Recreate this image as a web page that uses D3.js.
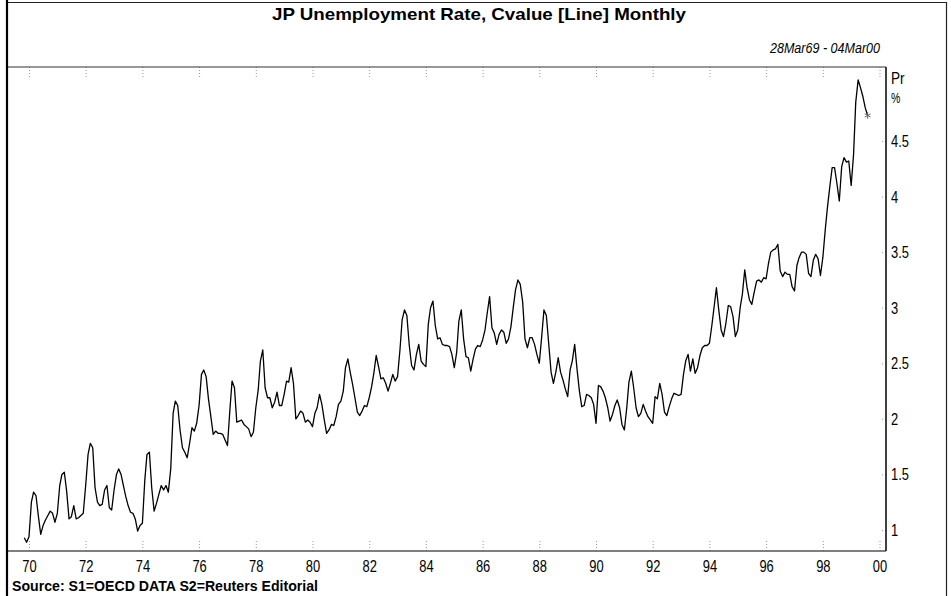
<!DOCTYPE html>
<html>
<head>
<meta charset="utf-8">
<script src="https://cdn.jsdelivr.net/npm/d3@7"></script>
<style>
  body { margin: 0; background: #fff; }
  svg { display: block; }
  text { font-family: "Liberation Sans", Arial, sans-serif; fill: #000; }
</style>
</head>
<body>
<div id="chart"></div>
<script>
// JP unemployment rate, monthly, %, first point Nov 1969
var rate1969_74 = [0.93, 0.89,
  0.94, 1.25, 1.34, 1.31, 1.13, 0.96, 1.04, 1.09, 1.13, 1.17, 1.15, 1.07,
  1.15, 1.40, 1.50, 1.52, 1.35, 1.10, 1.12, 1.22, 1.10, 1.11, 1.13, 1.15,
  1.40, 1.68, 1.78, 1.74, 1.38, 1.25, 1.22, 1.23, 1.36, 1.40, 1.20, 1.18,
  1.36, 1.50, 1.55, 1.50, 1.40, 1.30, 1.22, 1.16, 1.15, 1.10, 0.99, 1.04,
  1.06, 1.45, 1.68, 1.70, 1.38, 1.17, 1.24, 1.32, 1.40, 1.36, 1.40, 1.34];
var rate1975_79 = [
  1.55, 2.05, 2.16, 2.12, 1.90, 1.74, 1.70, 1.65, 1.78, 1.92, 1.89, 1.96,
  2.12, 2.40, 2.44, 2.38, 2.18, 2.02, 1.86, 1.89, 1.87, 1.87, 1.86, 1.81,
  1.76, 2.08, 2.34, 2.28, 1.97, 1.98, 1.99, 1.95, 1.93, 1.91, 1.84, 1.88,
  2.10, 2.26, 2.52, 2.62, 2.28, 2.19, 2.19, 2.10, 2.15, 2.24, 2.12, 2.12,
  2.22, 2.34, 2.33, 2.46, 2.32, 2.00, 2.03, 2.07, 2.05, 1.97, 1.99, 1.97];
var rate1980_84 = [
  1.93, 2.05, 2.10, 2.22, 2.13, 1.99, 1.87, 1.90, 1.95, 1.94, 2.02, 2.13,
  2.16, 2.25, 2.46, 2.54, 2.42, 2.31, 2.19, 2.06, 2.03, 2.07, 2.12, 2.11,
  2.19, 2.29, 2.41, 2.57, 2.47, 2.36, 2.37, 2.32, 2.25, 2.32, 2.40, 2.34,
  2.38, 2.62, 2.89, 2.98, 2.93, 2.66, 2.48, 2.44, 2.58, 2.67, 2.52, 2.49,
  2.47, 2.85, 3.00, 3.06, 2.84, 2.72, 2.73, 2.67, 2.66, 2.66, 2.65, 2.58];
var rate1985_89 = [
  2.46, 2.60, 2.88, 2.98, 2.72, 2.56, 2.55, 2.43, 2.54, 2.63, 2.66, 2.65,
  2.71, 2.80, 2.95, 3.10, 2.82, 2.77, 2.67, 2.76, 2.80, 2.78, 2.68, 2.72,
  2.83, 3.01, 3.16, 3.25, 3.21, 3.05, 2.72, 2.64, 2.73, 2.73, 2.67, 2.58,
  2.50, 2.74, 2.98, 2.93, 2.68, 2.42, 2.32, 2.42, 2.55, 2.42, 2.35, 2.27,
  2.20, 2.44, 2.52, 2.67, 2.45, 2.25, 2.11, 2.12, 2.22, 2.21, 2.19, 2.13];
var rate1990_94 = [
  1.96, 2.30, 2.29, 2.25, 2.19, 2.10, 1.98, 2.04, 2.12, 2.17, 2.10, 1.95,
  1.90, 2.10, 2.33, 2.43, 2.28, 2.10, 2.02, 2.05, 2.13, 2.07, 2.02, 1.99,
  1.96, 2.20, 2.18, 2.32, 2.22, 2.06, 2.03, 2.11, 2.18, 2.23, 2.22, 2.21,
  2.22, 2.40, 2.52, 2.58, 2.43, 2.54, 2.41, 2.46, 2.57, 2.64, 2.66, 2.66,
  2.68, 2.84, 3.00, 3.18, 2.98, 2.80, 2.74, 2.86, 3.02, 3.01, 2.92, 2.74];
var rate1995_99 = [
  2.80, 3.00, 3.12, 3.34, 3.18, 3.07, 3.03, 3.14, 3.24, 3.25, 3.23, 3.27,
  3.26, 3.40, 3.50, 3.52, 3.53, 3.57, 3.33, 3.28, 3.32, 3.30, 3.30, 3.19,
  3.15, 3.38, 3.45, 3.50, 3.50, 3.48, 3.31, 3.28, 3.43, 3.48, 3.44, 3.29,
  3.45, 3.70, 3.90, 4.09, 4.26, 4.26, 4.12, 3.96, 4.27, 4.35, 4.31, 4.32,
  4.10, 4.38, 4.85, 5.05, 4.98, 4.90, 4.80, 4.73];

var yearTicks = d3.range(1970, 2001, 2);
var rateTicks = [1, 1.5, 2, 2.5, 3, 3.5, 4, 4.5];

var svgWidth = 951, svgHeight = 596;
var plot = { left: 7, right: 886, top: 67, bottom: 551 };

var svg = d3.select("#chart").append("svg")
  .attr("width", svgWidth)
  .attr("height", svgHeight);

var rates = [].concat(rate1969_74, rate1975_79, rate1980_84, rate1985_89, rate1990_94, rate1995_99);
var data = rates.map(function(v, i) {
  return { date: new Date(1969, 10 + i, 1), value: v };
});

var xScale = d3.scaleTime()
  .domain([new Date(1970, 0, 1), new Date(2000, 0, 1)])
  .range([29, 879.5]);

var yScale = d3.scaleLinear()
  .domain([1, 4.5])
  .range([530, 141]);

// squeeze text horizontally so it reads like the narrow font of the original
function narrow(sel, k) {
  sel.each(function() {
    var w = this.getComputedTextLength();
    d3.select(this).attr("textLength", w * k).attr("lengthAdjust", "spacingAndGlyphs");
  });
}

// outer frame
svg.append("path")
  .attr("d", "M7,600 V2.5 H946.5 V600")
  .attr("fill", "none")
  .attr("stroke", "#222")
  .attr("stroke-width", 1.2);

// title + date range
svg.append("text")
  .attr("x", 479).attr("y", 20)
  .attr("text-anchor", "middle")
  .attr("font-size", 17).attr("font-weight", "bold")
  .attr("textLength", 414).attr("lengthAdjust", "spacingAndGlyphs")
  .text("JP Unemployment Rate, Cvalue [Line] Monthly");

svg.append("text")
  .attr("x", 880).attr("y", 53)
  .attr("text-anchor", "end")
  .attr("font-size", 15).attr("font-style", "italic")
  .attr("textLength", 110).attr("lengthAdjust", "spacingAndGlyphs")
  .text("28Mar69 - 04Mar00");

// x axis (bottom labels + dotted ticks), and dotted ticks on top edge
var xAxis = svg.append("g")
  .attr("transform", "translate(0," + plot.bottom + ")")
  .call(d3.axisBottom(xScale)
    .tickValues(yearTicks.map(function(y) { return new Date(y, 0, 1); }))
    .tickFormat(d3.timeFormat("%y"))
    .tickSize(-10).tickPadding(9));
xAxis.select(".domain").remove();
xAxis.selectAll("line").attr("stroke", "#999").attr("stroke-dasharray", "1,2");
xAxis.selectAll("text").attr("font-size", 17).style("font-family", null).call(narrow, 0.76);

var xTop = svg.append("g")
  .attr("transform", "translate(0," + plot.top + ")")
  .call(d3.axisTop(xScale)
    .tickValues(yearTicks.map(function(y) { return new Date(y, 0, 1); }))
    .tickFormat("")
    .tickSize(-10));
xTop.select(".domain").remove();
xTop.selectAll("line").attr("stroke", "#999").attr("stroke-dasharray", "1,2");

// right y axis
var yAxis = svg.append("g")
  .attr("transform", "translate(" + plot.right + ",0)")
  .call(d3.axisRight(yScale)
    .tickValues(rateTicks)
    .tickFormat(function(d) { return String(d); })
    .tickSize(-6).tickPadding(5));
yAxis.select(".domain").remove();
yAxis.selectAll("line").attr("stroke", "#999").attr("stroke-dasharray", "1,2");
yAxis.selectAll("text").attr("font-size", 17).style("font-family", null).call(narrow, 0.76);

svg.append("text").attr("x", 891).attr("y", 84).attr("font-size", 17).text("Pr").call(narrow, 0.8);
svg.append("text").attr("x", 891).attr("y", 103).attr("font-size", 15).text("%").call(narrow, 0.7);

// plot borders
svg.append("line")
  .attr("x1", plot.left).attr("x2", plot.right)
  .attr("y1", plot.top).attr("y2", plot.top)
  .attr("stroke", "#333").attr("stroke-width", 1.2);
svg.append("line")
  .attr("x1", plot.left).attr("x2", plot.right)
  .attr("y1", plot.bottom).attr("y2", plot.bottom)
  .attr("stroke", "#555").attr("stroke-width", 1.5);
svg.append("line")
  .attr("x1", plot.right).attr("x2", plot.right)
  .attr("y1", plot.top).attr("y2", plot.bottom)
  .attr("stroke", "#111").attr("stroke-width", 1.6);
svg.append("line")
  .attr("x1", 7).attr("x2", 7)
  .attr("y1", 0).attr("y2", svgHeight)
  .attr("stroke", "#000").attr("stroke-width", 2.2);

// the series
var line = d3.line()
  .x(function(d) { return xScale(d.date); })
  .y(function(d) { return yScale(d.value); });

svg.append("path")
  .datum(data)
  .attr("d", line)
  .attr("fill", "none")
  .attr("stroke", "#000")
  .attr("stroke-width", 1.3)
  .attr("stroke-linejoin", "round");

var last = data[data.length - 1];
svg.append("path")
  .attr("d", d3.symbol(d3.symbolAsterisk, 30)())
  .attr("transform", "translate(" + xScale(last.date) + "," + yScale(last.value) + ")")
  .attr("fill", "none")
  .attr("stroke", "#666")
  .attr("stroke-width", 1);

// source note
svg.append("text")
  .attr("x", 12).attr("y", 591)
  .attr("font-size", 15).attr("font-weight", "bold")
  .attr("textLength", 306).attr("lengthAdjust", "spacingAndGlyphs")
  .text("Source: S1=OECD DATA S2=Reuters Editorial");
</script>
</body>
</html>
